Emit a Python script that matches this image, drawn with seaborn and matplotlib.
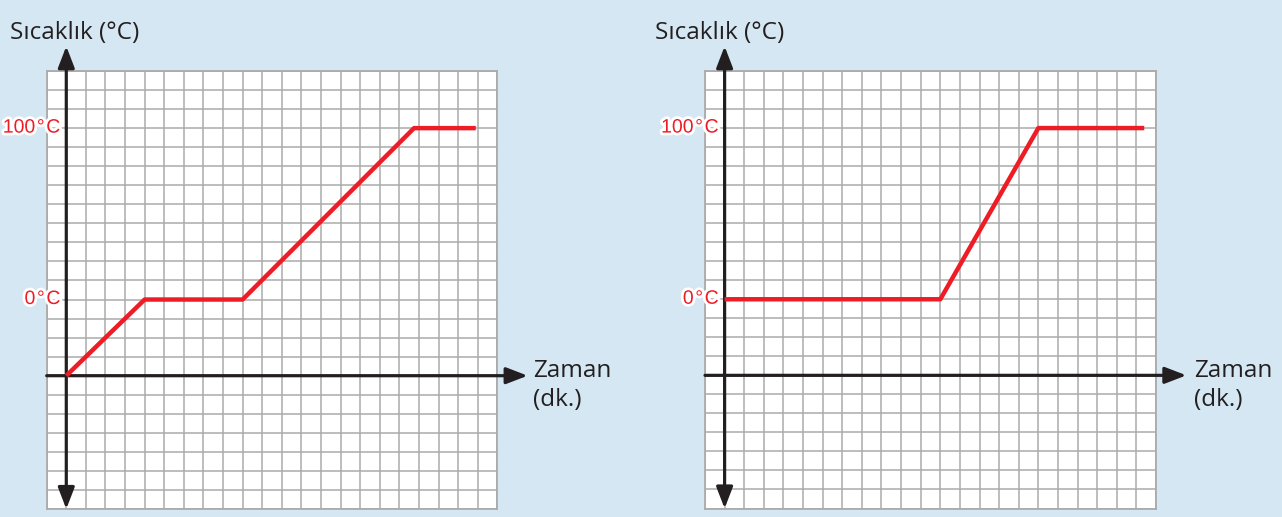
import matplotlib
matplotlib.use("Agg")
import matplotlib.pyplot as plt
import matplotlib.patheffects as pe
import numpy as np
import pandas as pd
import seaborn as sns

# heating curves of water (1 unit = 1 grid cell)
# time axis: y-axis sits on column 0, x-axis sits on row 0
left_time = [0, 4, 9, 17.75, 20.9]
left_temp = [0, 4, 4, 13, 13]
right_time = [0, 11, 16, 21.4]
right_temp = [4, 4, 13, 13]

temp_ticks = [4, 13]
temp_labels = ["0\u200a°\u200aC", "100\u200a°\u200aC"]

y_title = "Sıcaklık (°C)"
x_title = ["Zaman", "(dk.)"]

W, H = 1282, 517
bg = "#d4e7f2"
red = "#ee1c25"
ink = "#231f20"
grid_col = "#ababab"

sns.set_style("white")
plt.rcParams["font.family"] = ["Open Sans", "DejaVu Sans"]

fig = plt.figure(figsize=(W / 100, H / 100), dpi=100, facecolor=bg)


def px_axes(left, top, right, bottom):
    return fig.add_axes([left / W, 1 - bottom / H, (right - left) / W, (bottom - top) / H])


def draw_chart(ax, times, temps):
    ax.set_facecolor("white")
    ax.set_xlim(-1, 22)
    ax.set_ylim(-7, 16)
    ax.set_xticks(np.arange(-1, 23))
    ax.set_yticks(np.arange(-7, 17))
    ax.tick_params(length=0, labelbottom=False, labelleft=False)
    ax.grid(True, color=grid_col, linewidth=1.1)
    for s in ax.spines.values():
        s.set_color(grid_col)
        s.set_linewidth(1.3)

    df = pd.DataFrame({"time": times, "temp": temps})
    sns.lineplot(data=df, x="time", y="temp", ax=ax, color=red, linewidth=3.2,
                 sort=False, estimator=None, solid_capstyle="butt", zorder=5)
    ax.set_xlabel("")
    ax.set_ylabel("")

    # axes with arrow heads
    arrow = dict(arrowstyle="-|>,head_length=1.3,head_width=0.5", mutation_scale=10,
                 color=ink, lw=2.3, shrinkA=0, shrinkB=0)
    ax.annotate("", xy=(23.55, 0), xytext=(-1, 0), arrowprops=arrow,
                annotation_clip=False, zorder=4)
    ax.annotate("", xy=(0, 17.3), xytext=(0, 4), arrowprops=arrow,
                annotation_clip=False, zorder=4)
    ax.annotate("", xy=(0, -7), xytext=(0, 4), arrowprops=arrow,
                annotation_clip=False, zorder=4)

    for t, lab in zip(temp_ticks, temp_labels):
        ax.text(-0.3, t, lab, color=red, fontsize=14, ha="right", va="center",
                family=["Liberation Sans", "DejaVu Sans"], clip_on=False, zorder=6,
                path_effects=[pe.withStroke(linewidth=4, foreground="white")])


ax1 = px_axes(46.7, 71, 497.3, 509)
draw_chart(ax1, left_time, left_temp)
ax2 = px_axes(705, 71, 1156, 508.5)
draw_chart(ax2, right_time, right_temp)

# titles of the axes
for x_left, x_right in [(10, 533), (655, 1194)]:
    fig.text(x_left / W, 1 - 39 / H, y_title, fontsize=17.5, color=ink, va="baseline")
    fig.text(x_right / W, 1 - 377 / H, x_title[0], fontsize=17.5, color=ink, va="baseline")
    fig.text(x_right / W, 1 - 406 / H, x_title[1], fontsize=17.5, color=ink, va="baseline")

fig.savefig("out.png", dpi=100, facecolor=bg)
